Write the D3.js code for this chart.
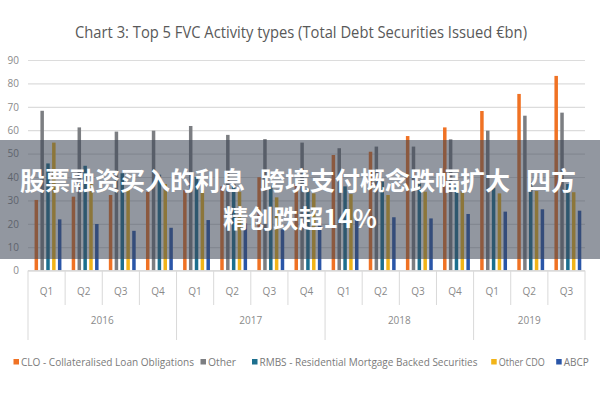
<!DOCTYPE html>
<html>
<head>
<meta charset="utf-8">
<script src="https://cdn.jsdelivr.net/npm/d3@7"></script>
<style>
  html, body { margin: 0; padding: 0; background: #fff; }
  svg { display: block; }
</style>
</head>
<body>
<svg id="chart" width="600" height="400"></svg>
<script>
// ---- data ----
const years = ["2016", "2017", "2018", "2019"];
const quarters = ["2016Q1","2016Q2","2016Q3","2016Q4","2017Q1","2017Q2","2017Q3","2017Q4",
                  "2018Q1","2018Q2","2018Q3","2018Q4","2019Q1","2019Q2","2019Q3"];
const quarterLabels = ["Q1","Q2","Q3","Q4","Q1","Q2","Q3","Q4","Q1","Q2","Q3","Q4","Q1","Q2","Q3"];
const seriesNames = ["CLO - Collateralised Loan Obligations", "Other",
                     "RMBS - Residential Mortgage Backed Securities", "Other CDO", "ABCP"];
const clo   = [30.2, 31.6, 32.3, 33.7, 34.4, 36.0, 39.9, 37.0, 49.4, 50.8, 57.5, 61.2, 68.2, 75.5, 83.2];
const other = [68.3, 61.2, 59.4, 59.8, 61.8, 58.0, 56.2, 54.7, 52.3, 53.0, 53.0, 56.1, 59.8, 66.2, 67.5];
const rmbs  = [45.8, 44.8, 41.6, 41.0, 40.0, 37.0, 36.0, 35.0, 36.0, 38.0, 37.3, 36.0, 35.4, 38.0, 37.0];
const otherCdo = [54.7, 37.0, 35.0, 37.0, 34.4, 33.7, 31.3, 33.0, 32.7, 32.3, 33.7, 34.0, 33.0, 34.0, 33.5];
const abcp  = [21.9, 19.9, 17.0, 18.3, 21.6, 20.2, 17.6, 20.2, 21.6, 22.8, 22.3, 24.2, 25.2, 26.2, 25.6];
const yTicks = [0, 10, 20, 30, 40, 50, 60, 70, 80, 90];
const title = "Chart 3: Top 5 FVC Activity types (Total Debt Securities Issued €bn)";
const overlayLine1 = ["股票融资买入的利息", "跨境支付概念跌幅扩大", "四方"];
const overlayLine2 = "精创跌超14%";

const seriesValues = [clo, other, rmbs, otherCdo, abcp];
const colors = ["#F07224", "#7C7E82", "#1C6F8E", "#F2B418", "#2A56A8"];

// ---- layout ----
const svg = d3.select("#chart");
const latin = "'Liberation Sans Narrow', 'Open Sans', 'Liberation Sans', sans-serif";
const L = 28, R = 585, T = 60, B = 270.6;

const y = d3.scaleLinear().domain([0, 90]).range([B, T]);
const x0 = d3.scaleBand().domain(quarters).range([L, R]).paddingInner(0).paddingOuter(0);
const x1 = d3.scaleBand().domain(seriesNames).range([5.4, 34.6]).paddingInner(0.4).paddingOuter(0.2);

// title
svg.append("text")
  .attr("x", 301).attr("y", 38)
  .attr("text-anchor", "middle")
  .attr("font-family", latin).attr("font-size", 17)
  .attr("fill", "#595959")
  .attr("textLength", 452).attr("lengthAdjust", "spacingAndGlyphs")
  .text(title);

// y axis with gridlines
const yAxis = svg.append("g")
  .attr("transform", `translate(${L},0)`)
  .call(d3.axisLeft(y).tickValues(yTicks).tickSize(-(R - L)).tickPadding(9));
yAxis.select(".domain").remove();
yAxis.selectAll(".tick line").attr("stroke", "#dcdcdc").attr("stroke-width", 1.2);
yAxis.selectAll(".tick text")
  .attr("font-family", latin).attr("font-size", 10).attr("fill", "#8a8a8a");

// bars
const groups = svg.append("g").selectAll("g")
  .data(quarters)
  .join("g")
  .attr("transform", d => `translate(${x0(d)},0)`);

groups.selectAll("rect")
  .data((q, qi) => seriesNames.map((s, si) => ({ s, si, v: seriesValues[si][qi] })))
  .join("rect")
  .attr("x", d => x1(d.s))
  .attr("width", x1.bandwidth())
  .attr("y", d => y(d.v))
  .attr("height", d => y(0) - y(d.v))
  .attr("fill", d => colors[d.si]);

// x axis (multi-level category)
const axisColor = "#d9d9d9";
const xg = svg.append("g");
xg.append("line").attr("x1", L).attr("x2", R).attr("y1", B).attr("y2", B)
  .attr("stroke", axisColor);
xg.selectAll("line.q")
  .data(quarters.concat(["end"]))
  .join("line").attr("class", "q")
  .attr("x1", (d, i) => i < quarters.length ? x0(d) : R)
  .attr("x2", (d, i) => i < quarters.length ? x0(d) : R)
  .attr("y1", B)
  .attr("y2", (d, i) => (i === quarters.length || i % 4 === 0) ? 340 : 305)
  .attr("stroke", axisColor);
xg.selectAll("text.q")
  .data(quarters)
  .join("text").attr("class", "q")
  .attr("x", d => x0(d) + x0.bandwidth() / 2)
  .attr("y", 295)
  .attr("text-anchor", "middle")
  .attr("font-family", latin).attr("font-size", 10).attr("fill", "#8a8a8a")
  .text((d, i) => quarterLabels[i]);
xg.selectAll("text.y")
  .data(years)
  .join("text").attr("class", "y")
  .attr("x", yr => {
    const qs = quarters.filter(q => q.startsWith(yr));
    const a = x0(qs[0]), b = x0(qs[qs.length - 1]) + x0.bandwidth();
    return (a + b) / 2;
  })
  .attr("y", 324)
  .attr("text-anchor", "middle")
  .attr("font-family", latin).attr("font-size", 10).attr("fill", "#8a8a8a")
  .text(d => d);

// legend
const legendX = [16, 203, 254.5, 493.7, 558.7];
const legendW = [173, 28, 218, 46, 25];
const lg = svg.append("g").selectAll("g")
  .data(seriesNames)
  .join("g")
  .attr("transform", (d, i) => `translate(${legendX[i]},362)`);
lg.append("rect").attr("x", -2.5).attr("y", -3).attr("width", 5.5).attr("height", 5.5)
  .attr("fill", (d, i) => colors[i]);
lg.append("text")
  .attr("x", 5).attr("y", 3.5)
  .attr("font-family", latin).attr("font-size", 10).attr("fill", "#7a7a7a")
  .attr("textLength", (d, i) => legendW[i]).attr("lengthAdjust", "spacingAndGlyphs")
  .text(d => d);

// overlay banner
svg.append("rect")
  .attr("x", 0).attr("y", 140).attr("width", 600).attr("height", 119)
  .attr("fill", "rgb(60,70,86)").attr("fill-opacity", 0.56);

const cjk = "'Noto Sans CJK SC', 'Noto Sans', sans-serif";
const line1X = [20, 260, 526];
svg.append("g").selectAll("text")
  .data(overlayLine1)
  .join("text")
  .attr("x", (d, i) => line1X[i]).attr("y", 190)
  .attr("font-family", cjk).attr("font-weight", "bold").attr("font-size", 25)
  .attr("fill", "#ffffff")
  .text(d => d);
svg.append("text")
  .attr("x", 300).attr("y", 228)
  .attr("text-anchor", "middle")
  .attr("font-family", cjk).attr("font-weight", "bold").attr("font-size", 25)
  .attr("fill", "#ffffff")
  .text(overlayLine2);
</script>
</body>
</html>
